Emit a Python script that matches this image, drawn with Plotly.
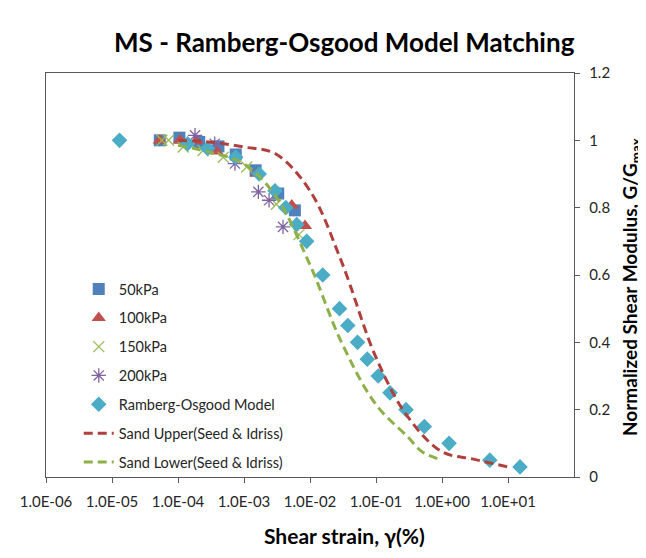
import plotly.graph_objects as go

# ---------------- data ----------------
x_50 = [5.3e-5, 1.05e-4, 2.1e-4, 4.1e-4, 7.5e-4, 1.5e-3, 3.3e-3, 5.9e-3]
y_50 = [1.0, 1.008, 0.995, 0.982, 0.958, 0.911, 0.842, 0.792]

x_100 = [5.3e-5, 1.07e-4, 1.92e-4, 3.85e-4, 1.56e-3, 5.3e-3, 8.4e-3]
y_100 = [1.0, 1.0, 0.998, 0.967, 0.901, 0.807, 0.746]

x_150 = [5.7e-5, 7.2e-5, 1.2e-4, 2.4e-4, 4.85e-4, 1.1e-3, 3.1e-3, 6.8e-3]
y_150 = [1.0, 1.0, 0.98, 0.97, 0.95, 0.921, 0.81, 0.72]

x_200 = [1.81e-4, 3.6e-4, 7.3e-4, 1.65e-3, 2.4e-3, 3.9e-3]
y_200 = [1.015, 0.99, 0.931, 0.847, 0.822, 0.743]

x_ro = [1.3e-5, 1.4e-4, 2.8e-4, 7.5e-4, 1.7e-3, 2.95e-3, 4.3e-3, 6.3e-3, 8.9e-3,
        0.0156, 0.028, 0.0374, 0.0525, 0.0738, 0.108, 0.163, 0.285, 0.54, 1.28, 5.3, 15.2]
y_ro = [1.0, 0.99, 0.976, 0.95, 0.90, 0.85, 0.80, 0.75, 0.70,
        0.60, 0.50, 0.45, 0.40, 0.35, 0.30, 0.25, 0.20, 0.15, 0.10, 0.05, 0.03]

x_up = [1e-4, 3e-4, 1e-3, 3e-3, 1e-2, 3e-2, 1e-1, 3e-1, 1.0, 3.0, 10.0]
y_up = [1.0, 0.995, 0.98, 0.96, 0.85, 0.64, 0.355, 0.18, 0.075, 0.053, 0.03]

x_lo = [1e-4, 3e-4, 1e-3, 3e-3, 1e-2, 3e-2, 1e-1, 3e-1, 0.5, 1.0]
y_lo = [0.985, 0.965, 0.93, 0.835, 0.63, 0.40, 0.215, 0.12, 0.075, 0.05]

x_tickvals = [1e-6, 1e-5, 1e-4, 1e-3, 1e-2, 1e-1, 1e0, 1e1]
x_ticktext = ["1.0E-06", "1.0E-05", "1.0E-04", "1.0E-03", "1.0E-02", "1.0E-01", "1.0E+00", "1.0E+01"]
y_tickvals = [0, 0.2, 0.4, 0.6, 0.8, 1.0, 1.2]
y_ticktext = ["0", "0.2", "0.4", "0.6", "0.8", "1", "1.2"]

FONT = "Lato"
fig = go.Figure()

fig.add_trace(go.Scatter(x=x_50, y=y_50, mode="markers", name="50kPa", legendgroup="a",
                         marker=dict(symbol="square", size=12, color="#4F81BD")))
fig.add_trace(go.Scatter(x=x_100, y=y_100, mode="markers", name="100kPa", legendgroup="b",
                         marker=dict(symbol="triangle-up", size=12.5, color="#C0504D")))
fig.add_trace(go.Scatter(x=x_150, y=y_150, mode="markers", name="150kPa", legendgroup="c",
                         marker=dict(symbol="x-thin-open", size=11, color="#9BBB59",
                                     line=dict(width=1.3, color="#9BBB59"))))
fig.add_trace(go.Scatter(x=x_200, y=y_200, mode="markers", name="200kPa", legendgroup="d",
                         marker=dict(symbol="asterisk-open", size=12, color="#8064A2",
                                     line=dict(width=1.3, color="#8064A2"))))
fig.add_trace(go.Scatter(x=x_ro, y=y_ro, mode="markers", name="Ramberg-Osgood Model", legendgroup="e",
                         marker=dict(symbol="diamond", size=12, color="#4BACC6")))
fig.add_trace(go.Scatter(x=x_up, y=y_up, mode="lines", name="Sand Upper(Seed & Idriss)", legendgroup="f",
                         line=dict(color="#B0403E", width=3, dash="9px,5px", shape="spline")))
fig.add_trace(go.Scatter(x=x_lo, y=y_lo, mode="lines", name="Sand Lower(Seed & Idriss)", legendgroup="g",
                         line=dict(color="#8DB04A", width=3, dash="9px,5px", shape="spline")))

fig.update_layout(
    width=638, height=550,
    margin=dict(l=38, r=72, t=65, b=81),
    paper_bgcolor="white", plot_bgcolor="white",
    font=dict(family=FONT, size=14, color="#262626"),
    showlegend=True,
    legend=dict(x=0.062, y=0.505, xanchor="left", yanchor="top", bgcolor="rgba(0,0,0,0)",
                font=dict(family=FONT, size=14.5, color="#262626"), tracegroupgap=7,
                itemwidth=30),
    xaxis=dict(type="log", range=[-6, 2], tickvals=x_tickvals, ticktext=x_ticktext,
               showgrid=False, zeroline=False, showline=True, linecolor="#595959", linewidth=1.3,
               mirror=True, ticks="outside", ticklen=5, tickcolor="#595959", ticklabelstandoff=6,
               tickfont=dict(family=FONT, size=15, color="#262626")),
    yaxis=dict(side="right", range=[0, 1.2], tickvals=y_tickvals, ticktext=y_ticktext,
               showgrid=False, zeroline=False, showline=True, linecolor="#595959", linewidth=1.3,
               mirror=True, ticks="outside", ticklen=5, tickcolor="#595959", ticklabelstandoff=6,
               tickfont=dict(family=FONT, size=15, color="#262626")),
    annotations=[
        dict(text="<b>MS - Ramberg-Osgood Model Matching</b>", xref="paper", yref="paper",
             x=0.566, y=1.0, yshift=31, xanchor="center", yanchor="middle", showarrow=False,
             font=dict(family=FONT, size=26, color="#000000")),
        dict(text="<b>Shear strain, γ(%)</b>", xref="paper", yref="paper",
             x=0.566, y=0, yshift=-58, xanchor="center", yanchor="middle", showarrow=False,
             font=dict(family=FONT, size=21, color="#000000")),
        dict(text="<b>Normalized Shear Modulus, G/G<sub>max</sub></b>", xref="paper", yref="paper",
             x=1.0, xshift=57, y=0.5, yshift=-12, xanchor="center", yanchor="middle", textangle=-90,
             showarrow=False, font=dict(family=FONT, size=19, color="#000000")),
    ],
)

fig.write_html("out.html")
